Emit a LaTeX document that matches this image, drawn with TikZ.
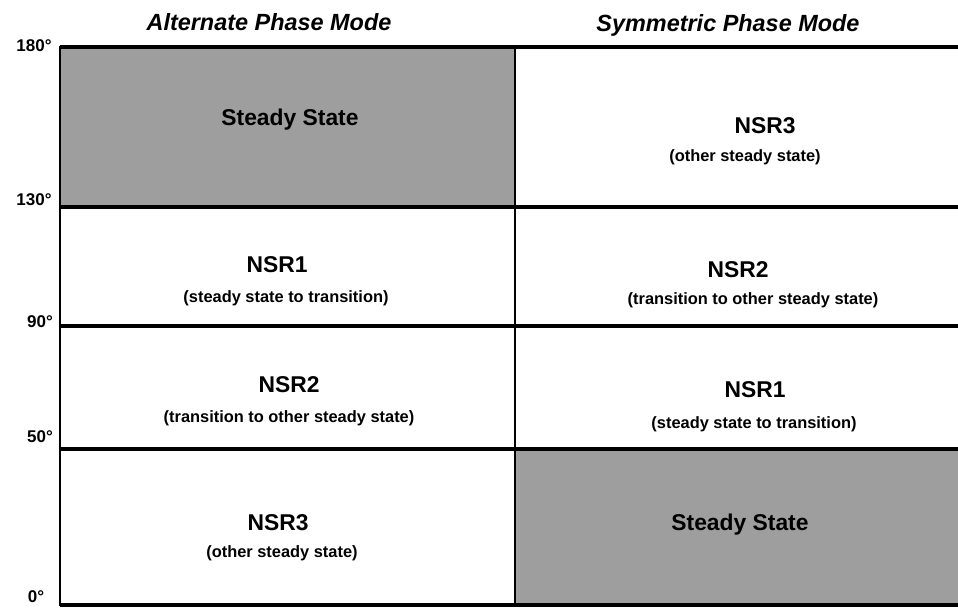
\documentclass[tikz,border=0pt]{standalone}
\usepackage{fontspec}
\setmainfont{Liberation Sans}
\tikzset{
  gridline/.style={line width=0.1cm, line cap=butt},
  sideline/.style={line width=0.07cm},
  cellshade/.style={fill=black!38, draw=none},
  titletext/.style={font=\fontsize{20}{24}\selectfont\bfseries\itshape},
  bigtext/.style={font=\fontsize{19.5}{23}\selectfont\bfseries},
  subtext/.style={font=\fontsize{14}{17}\selectfont\bfseries},
  axistext/.style={font=\fontsize{14.5}{17}\selectfont\bfseries}
}
\begin{document}
\begin{tikzpicture}
                \useasboundingbox (0.000000,0.000000) rectangle (28.740000,18.330000);
                
                % Shading steady state cells
                \fill [cellshade] (1.800000,16.920000) rectangle (15.450000,12.120000);%
                \fill [cellshade] (15.450000,4.860000) rectangle (28.740000,0.180000);%
                
                % Drawing row lines
                \draw [gridline, line width=0.12cm] (1.800000,16.920000) -- (28.740000,16.920000);%
                \draw [gridline] (1.800000,12.120000) -- (28.740000,12.120000);%
                \draw [gridline] (1.800000,8.550000) -- (28.740000,8.550000);%
                \draw [gridline] (1.800000,4.860000) -- (28.740000,4.860000);%
                \draw [gridline] (1.800000,0.180000) -- (28.740000,0.180000);%
                
                % Drawing column lines
                \draw [sideline] (1.800000,16.960000) -- (1.800000,0.140000);%
                \draw [sideline] (15.450000,16.960000) -- (15.450000,0.140000);%
                
                % Marking mode titles
                \draw (8.070000,17.670000) node (altmode) [titletext] {Alternate Phase Mode};%
                \draw (21.840000,17.580000) node (symmode) [titletext] {Symmetric Phase Mode};%
                
                % Marking phase angles
                \draw (1.020000,16.950000) node (deg180) [axistext] {180°};%
                \draw (1.020000,12.330000) node (deg130) [axistext] {130°};%
                \draw (1.200000,8.670000) node (deg90) [axistext] {90°};%
                \draw (1.200000,5.220000) node (deg50) [axistext] {50°};%
                \draw (1.080000,0.420000) node (deg0) [axistext] {0°};%
                
                % Alternate phase mode cells
                \draw (8.700000,14.730000) node (altsteady) [bigtext] {Steady State};%
                \draw (8.310000,10.380000) node (altnsr1) [bigtext] {NSR1};%
                \draw (8.580000,9.390000) node (altnsr1sub) [subtext] {(steady state to transition)};%
                \draw (8.670000,6.780000) node (altnsr2) [bigtext] {NSR2};%
                \draw (8.670000,5.790000) node (altnsr2sub) [subtext] {(transition to other steady state)};%
                \draw (8.340000,2.640000) node (altnsr3) [bigtext] {NSR3};%
                \draw (8.460000,1.740000) node (altnsr3sub) [subtext] {(other steady state)};%
                
                % Symmetric phase mode cells
                \draw (22.950000,14.550000) node (symnsr3) [bigtext] {NSR3};%
                \draw (22.350000,13.620000) node (symnsr3sub) [subtext] {(other steady state)};%
                \draw (22.140000,10.230000) node (symnsr2) [bigtext] {NSR2};%
                \draw (22.590000,9.330000) node (symnsr2sub) [subtext] {(transition to other steady state)};%
                \draw (22.650000,6.630000) node (symnsr1) [bigtext] {NSR1};%
                \draw (22.620000,5.610000) node (symnsr1sub) [subtext] {(steady state to transition)};%
                \draw (22.200000,2.580000) node (symsteady) [bigtext] {Steady State};%
\end{tikzpicture}
\end{document}
